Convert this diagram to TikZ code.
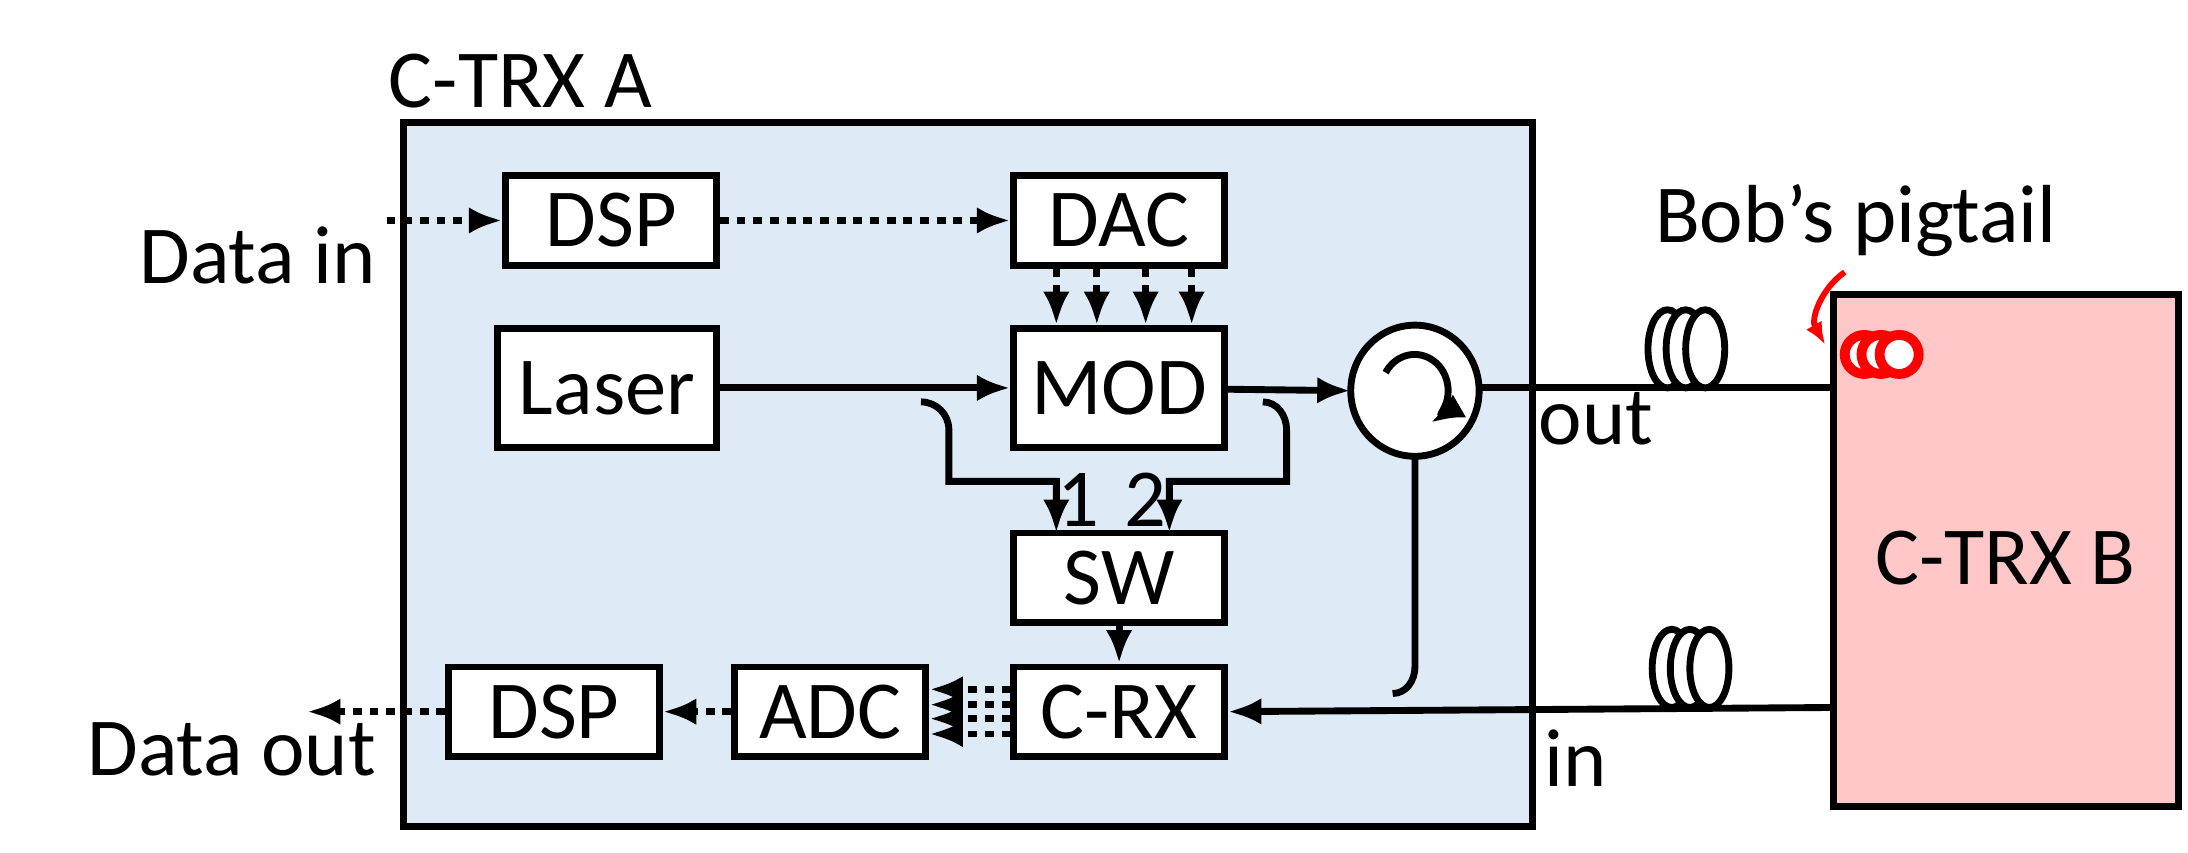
\documentclass[tikz,border=0pt]{standalone}
\usepackage{fontspec}
\setmainfont{Carlito}
\usetikzlibrary{calc,arrows.meta}
\tikzset{>={Latex[length=2.4mm,width=1.9mm]}}
\tikzset{
  blk/.style={draw, line width=1.4pt, fill=white, minimum width=15.1mm, minimum height=6.4mm, inner sep=0pt},
  sig/.style={line width=1.4pt, ->},
  dig/.style={line width=1.4pt, ->, dash pattern=on 1.8pt off 1.6pt},
  coil/.style={line width=1.4pt, fill=white},
  lbl/.style={inner sep=0pt},
}
\begin{document}
\fontsize{16.8}{20}\selectfont
\begin{tikzpicture}[x=0.1mm,y=-0.1mm]
\useasboundingbox (0,0) rectangle (1568,611);
% transceiver boxes
\draw[line width=1.4pt, fill={rgb,255:red,222;green,234;blue,246}] (289,88) rectangle (1098,592);
\node[lbl, anchor=west] (ta) at (278,58) {C-TRX A};
\draw[line width=1.4pt, fill={rgb,255:red,255;green,199;blue,199}] (1314,211) rectangle (1561,578);
\node (tb) at (1437,400) {C-TRX B};

% blocks
\node[blk] (dspt) at (438,158) {DSP};
\node[blk] (dac) at (802,158) {DAC};
\node[blk, minimum width=15.7mm, minimum height=8.5mm] (laser) at (435,278) {Laser};
\node[blk, minimum height=8.5mm] (mod) at (802,278) {MOD};
\node[blk] (sw) at (802,414) {SW};
\node[blk] (crx) at (802,510) {C-RX};
\node[blk, minimum width=13.7mm] (adc) at (595,510) {ADC};
\node[blk] (dspb) at (397,510) {DSP};
\coordinate (circ) at (1014,280);
\draw[line width=1.4pt, fill=white] (circ) ellipse (46 and 47);
\draw[line width=1.4pt, ->] ($(circ)+(-21,-13)$) arc (-150:62:24 and 26);

% labels
\node[lbl, anchor=east] (din) at (270,183) {Data in};
\node[lbl, anchor=east] (dout) at (270,537) {Data out};
\node[lbl, anchor=west] (lout) at (1102,300) {out};
\node[lbl, anchor=west] (lin) at (1106,543) {in};
\node (bob) at (1330,158) {Bob’s pigtail};
\node[lbl] (n1) at (773,358) {1};
\node[lbl] (n2) at (821,358) {2};

% digital links
\coordinate (inl) at (277,158);
\coordinate (outl) at (220,510);
\draw[dig] (inl) -- (dspt);
\draw[dig] (dspt) -- (dac);
\foreach \dx in {-45,-16,19,52}
  \draw[dig] ([xshift=\dx*0.1mm]dac.south) -- ([xshift=\dx*0.1mm]mod.north);
\foreach \dy in {-16,-5,5,16}
  \draw[dig] ([yshift=-\dy*0.1mm]crx.west) -- ([yshift=-\dy*0.1mm]adc.east);
\draw[dig] (adc) -- (dspb);
\draw[dig] (dspb) -- (outl);

% optical links
\draw[sig] (laser) -- (mod);
\draw[sig] (mod) -- ($(circ)+(-46,0)$);
\coordinate (b1) at (660,288);
\coordinate (b2) at (905,288);
\draw[sig] (b1) to[out=0,in=90] (680,308) -- (680,345) -- (757,345) -- (757,382);
\draw[sig] (b2) to[out=0,in=90] (922,308) -- (922,345) -- (838,345) -- (838,382);
\draw[sig] (sw) -- (crx);
\draw[line width=1.4pt] ($(circ)+(0,47)$) -- (1014,478) to[out=-90,in=0] (998,497);
\draw[line width=1.4pt] ($(circ)+(46,-2)$) -- (1314,278);
\draw[sig] (1314,507) -- (crx.east);

% fibre spools
\foreach \x in {1195,1208,1222}
  \draw[coil] (\x,250) ellipse (14 and 28);
\foreach \x in {1198,1211,1225}
  \draw[coil] (\x,479) ellipse (14 and 28);
\foreach \x in {1336,1348,1361}
  \draw[coil, draw=red, line width=2pt] (\x,254) circle (14);
\draw[red, line width=1.2pt, -{Latex[length=1.6mm,width=1.3mm]}] (1322,195) to[out=215,in=120] (1308,247);
\end{tikzpicture}
\end{document}
